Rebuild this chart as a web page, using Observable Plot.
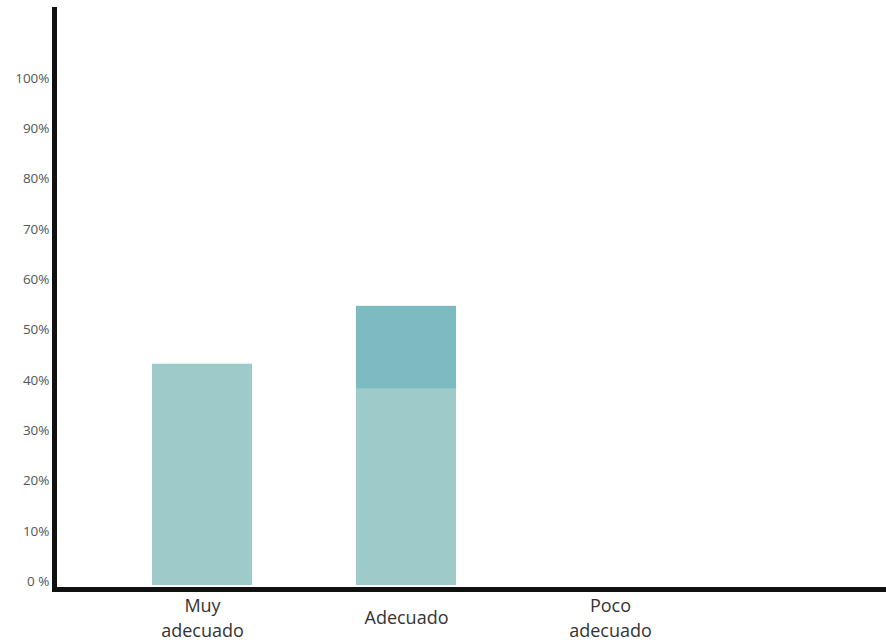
<!DOCTYPE html>
<html>
<head>
<meta charset="utf-8">
<script src="https://cdn.jsdelivr.net/npm/d3@7"></script>
<script src="https://cdn.jsdelivr.net/npm/@observablehq/plot@0.6"></script>
<style>
  html, body { margin: 0; padding: 0; background: #fff; }
  #chart svg { display: block; }
</style>
</head>
<body>
<div id="chart"></div>
<script>
const categories = ["Muy adecuado", "Adecuado", "Poco adecuado"];
const categoryLabels = ["Muy\nadecuado", "Adecuado", "Poco\nadecuado"];
const baseValues = [44, 39, 0];
const extraValues = [0, 16.5, 0];
const yTicks = [0, 10, 20, 30, 40, 50, 60, 70, 80, 90, 100];
const parts = ["base", "extra"];
const partColors = ["#9ccbca", "#7cbcc0"];

const rows = [];
categories.forEach((c, i) => {
  rows.push({cat: c, part: "base", value: baseValues[i]});
  rows.push({cat: c, part: "extra", value: extraValues[i]});
});
const labelOf = new Map(categories.map((c, i) => [c, categoryLabels[i]]));

const chart = Plot.plot({
  width: 886,
  height: 644,
  marginTop: 9,
  marginBottom: 55,
  marginLeft: 54,
  marginRight: 0,
  style: {fontFamily: "'Open Sans', sans-serif", background: "#fff"},
  x: {type: "band", domain: categories, range: [54, 758], paddingInner: 0.51, paddingOuter: 0.48, axis: null},
  y: {domain: [0, 100], range: [585, 82], axis: null},
  color: {domain: parts, range: partColors},
  marks: [
    Plot.barY(rows, {x: "cat", y: "value", fill: "part"}),
    Plot.axisY({
      ticks: yTicks, tickSize: 0, tickPadding: 5, dy: -4,
      tickFormat: d => d === 0 ? "0 %" : d + "%",
      fontSize: 13.5, fill: "#555", label: null
    }),
    Plot.text(categories, {
      x: d => d, text: d => labelOf.get(d),
      frameAnchor: "bottom", lineAnchor: "middle", dy: 27,
      fontSize: 18, lineHeight: 1.38, fill: "#333"
    }),
    Plot.frame({anchor: "left", stroke: "#111", strokeWidth: 5}),
    Plot.frame({anchor: "bottom", stroke: "#111", strokeWidth: 5})
  ]
});
document.getElementById("chart").appendChild(chart);
</script>
</body>
</html>
